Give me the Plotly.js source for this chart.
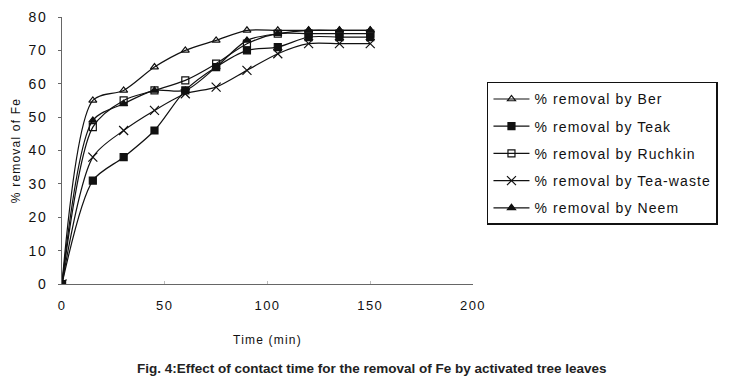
<!DOCTYPE html>
<html>
<head>
<meta charset="utf-8">
<script src="https://cdn.plot.ly/plotly-3.0.1.min.js"></script>
<style>html,body{margin:0;padding:0;background:#fff;}#chart{width:745px;height:386px;}
.legendtext{letter-spacing:1.1px;}
.ytick text,.xtick text{letter-spacing:1.5px;}
.g-xtitle text,.g-ytitle text{letter-spacing:1.2px;}
</style>
</head>
<body>
<div id="chart"></div>
<script>
const time = [0, 15, 30, 45, 60, 75, 90, 105, 120, 135, 150];
const ber = [0, 55, 58, 65, 70, 73, 76, 76, 76, 76, 76];
const teak = [0, 31, 38, 46, 58, 65, 70, 71, 74, 74, 74];
const ruchkin = [0, 47, 55, 58, 61, 66, 72, 75, 75, 75, 75];
const teaWaste = [0, 38, 46, 52, 57, 59, 64, 69, 72, 72, 72];
const neem = [0, 49, 54, 58, 58, 65, 73, 75, 76, 76, 76];
const seriesNames = ["% removal by Ber", "% removal by Teak", "% removal by Ruchkin", "% removal by Tea-waste", "% removal by Neem"];
const xTicks = [0, 50, 100, 150, 200];
const yTicks = [0, 10, 20, 30, 40, 50, 60, 70, 80];

const fontFam = "Liberation Sans Narrow, Arial Narrow, Liberation Sans, Arial, sans-serif";
const symbols = ["triangle-up-open", "square", "square-open", "x-thin-open", "triangle-up"];
const data = [ber, teak, ruchkin, teaWaste, neem];
const traces = data.map((ys, i) => ({
  x: time, y: ys, name: seriesNames[i], legendgroup: "g" + i, type: "scatter", mode: "lines+markers",
  line: {color: "#111", width: 1.2, shape: "spline", smoothing: 0.8},
  marker: {symbol: symbols[i], size: symbols[i] === "x-thin-open" ? 9 : 7, color: "#111",
           line: {color: "#111", width: 1.2}}
}));

const layout = {
  width: 745, height: 386,
  margin: {l: 62, r: 272, t: 17, b: 102, autoexpand: false},
  paper_bgcolor: "#fff", plot_bgcolor: "#fff",
  font: {family: fontFam, color: "#111", size: 12},
  showlegend: true,
  legend: {x: 1.034, y: 0.757, xanchor: "left", yanchor: "top",
           bordercolor: "#111", borderwidth: 1.5, bgcolor: "#fff", tracegroupgap: 6,
           font: {family: fontFam, size: 14, color: "#111"}, itemwidth: 36},
  xaxis: {range: [0, 200], tickvals: xTicks, ticktext: xTicks.map(String),
          showgrid: false, zeroline: false, showline: true, linecolor: "#666", linewidth: 1,
          ticks: "inside", ticklen: 3, tickcolor: "#bbb", ticklabelstandoff: 9,
          tickfont: {family: fontFam, size: 13, color: "#111"},
          title: {text: "Time (min)", font: {family: fontFam, size: 12, color: "#111"}, standoff: 24}},
  yaxis: {range: [0, 80], tickvals: yTicks, ticktext: yTicks.map(String),
          showgrid: false, zeroline: false, showline: true, linecolor: "#666", linewidth: 1,
          ticks: "outside", ticklen: 3, tickcolor: "#666", ticklabelstandoff: 8,
          tickfont: {family: fontFam, size: 14, color: "#111"},
          title: {text: "% removal of Fe", font: {family: fontFam, size: 12, color: "#111"}, standoff: 5}},
  annotations: [{
    text: "<b>Fig. 4:Effect of contact time for the removal of Fe by activated tree leaves</b>",
    xref: "paper", yref: "paper", x: 0.754, y: -0.315, xanchor: "center", yanchor: "middle",
    showarrow: false, font: {family: "Liberation Sans, Arial, sans-serif", size: 13.5, color: "#222"}
  }]
};
Plotly.newPlot("chart", traces, layout, {displayModeBar: false, staticPlot: true});
</script>
</body>
</html>
